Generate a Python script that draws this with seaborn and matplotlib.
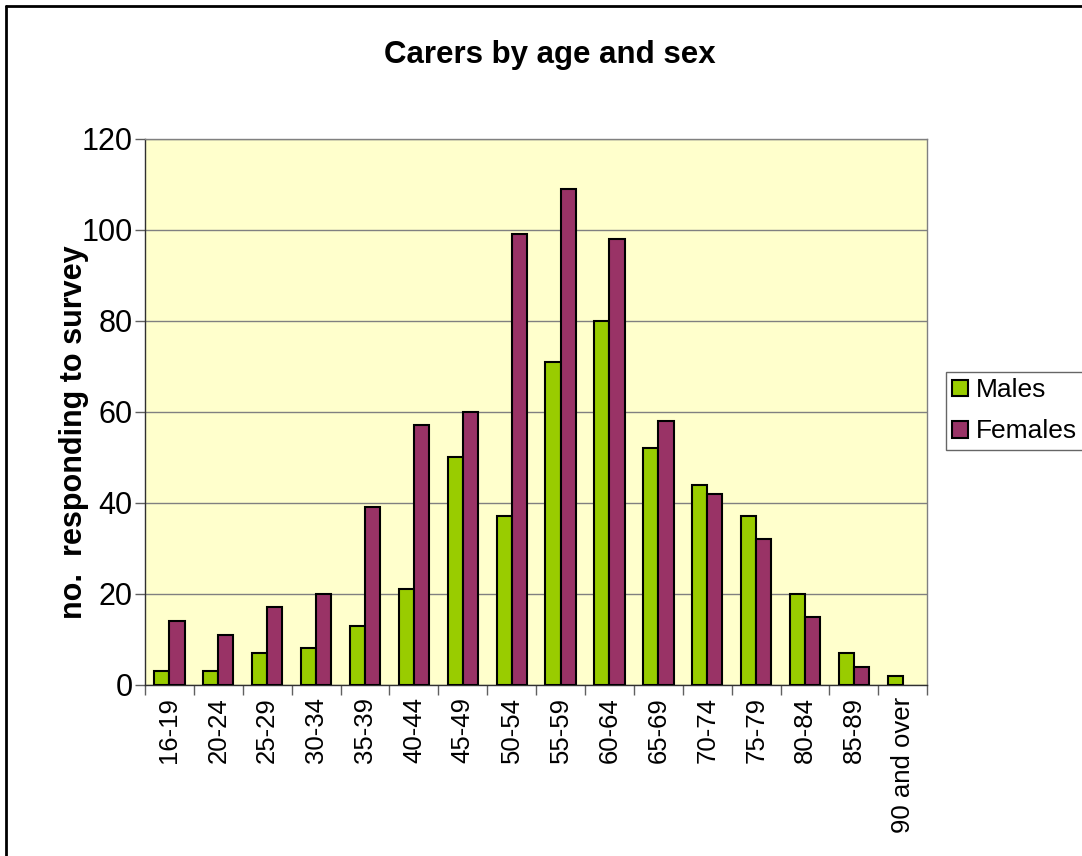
import pandas as pd
import matplotlib.pyplot as plt
from matplotlib.patches import Patch
from matplotlib.lines import Line2D
import seaborn as sns

# age bands and survey counts
ages = ['16-19', '20-24', '25-29', '30-34', '35-39', '40-44', '45-49', '50-54',
        '55-59', '60-64', '65-69', '70-74', '75-79', '80-84', '85-89', '90 and over']
males = [3, 3, 7, 8, 13, 21, 50, 37, 71, 80, 52, 44, 37, 20, 7, 2]
females = [14, 11, 17, 20, 39, 57, 60, 99, 109, 98, 58, 42, 32, 15, 4, 0]
colours = {'Males': '#99CC00', 'Females': '#993366'}

df = pd.DataFrame({'age': ages * 2,
                   'count': males + females,
                   'sex': ['Males'] * len(ages) + ['Females'] * len(ages)})

sns.set_style('white')
plt.rcParams['font.family'] = ['Liberation Sans', 'DejaVu Sans']
plt.rcParams['text.color'] = 'black'
plt.rcParams['axes.labelcolor'] = 'black'
plt.rcParams['xtick.color'] = 'black'
plt.rcParams['ytick.color'] = 'black'

fig = plt.figure(figsize=(10.82, 8.56), dpi=100)
ax = fig.add_axes([0.134, 0.2, 0.723, 0.638])
ax.set_facecolor('#FFFFCC')

sns.barplot(data=df, x='age', y='count', hue='sex', ax=ax,
            palette=colours, saturation=1, legend=False,
            edgecolor='black', linewidth=1.5, width=0.62, zorder=3)

# Excel draws nothing for an empty bar
for p in ax.patches:
    if p.get_height() == 0:
        p.set_linewidth(0)

ax.set_ylim(0, 120)
ax.set_xlim(-0.5, len(ages) - 0.5)
ax.set_yticks(range(0, 121, 20))
ax.yaxis.grid(True, color='#808080', linewidth=1, zorder=0)
ax.tick_params(axis='y', labelsize=22, length=7, width=1, direction='out', left=True,
               color='#606060', pad=2)
ax.tick_params(axis='x', labelsize=18.5, length=0, pad=9)
ax.set_xticks(range(len(ages)))
ax.set_xticklabels(ages, rotation=90, va='top')
# category separators under the axis
ax.set_xticks([i - 0.5 for i in range(len(ages) + 1)], minor=True)
ax.tick_params(axis='x', which='minor', length=7, width=1, direction='out', bottom=True,
               color='#606060')

ax.set_xlabel('')
ax.set_ylabel('no.  responding to survey', fontsize=22, fontweight='bold')
ax.yaxis.set_label_coords(-0.072, 0.463)

for side in ['top', 'right']:
    ax.spines[side].set_color('#808080')
for side in ['left', 'bottom']:
    ax.spines[side].set_color('#303030')
for s in ax.spines.values():
    s.set_linewidth(1)

handles = [Patch(facecolor=c, edgecolor='black', linewidth=1.5, label=k) for k, c in colours.items()]
ax.legend(handles=handles, loc='center left', bbox_to_anchor=(0.874, 0.52),
          bbox_transform=fig.transFigure,
          fontsize=19, frameon=True, fancybox=False, edgecolor='#404040',
          handlelength=0.6, handleheight=0.6, handletextpad=0.3, borderpad=0.25,
          labelspacing=0.65, borderaxespad=0)

fig.text(0.508, 0.936, 'Carers by age and sex', ha='center', va='center',
         fontsize=22.5, fontweight='bold')

# chart-area frame: only the top and left edges fall inside the image
fig.add_artist(Line2D([0.006, 0.006], [0.0, 0.9925], transform=fig.transFigure,
                      color='black', linewidth=2))
fig.add_artist(Line2D([0.006, 1.0], [0.9925, 0.9925], transform=fig.transFigure,
                      color='black', linewidth=2))

fig.savefig('out.png', dpi=100, facecolor='white')
